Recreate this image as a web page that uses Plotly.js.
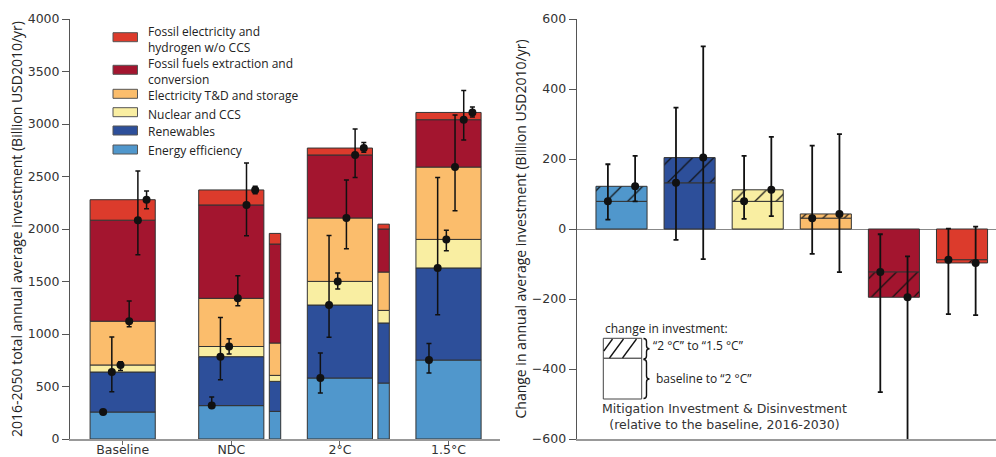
<!DOCTYPE html>
<html>
<head>
<meta charset="utf-8">
<script src="https://cdn.plot.ly/plotly-3.0.1.min.js"></script>
<style>html,body{margin:0;padding:0;background:#fff;}#chart{width:996px;height:457px;}</style>
</head>
<body>
<div id="chart"></div>
<script>
// ---------- DATA ----------
const categories = ['Baseline', 'NDC', '2°C', '1.5°C'];
const seriesNames = ['Energy efficiency', 'Renewables', 'Nuclear and CCS', 'Electricity T&D and storage',
  'Fossil fuels extraction and conversion', 'Fossil electricity and hydrogen w/o CCS'];

// 2016-2050 stacked components (Billion USD2010/yr)
const efficiency  = [257, 318, 581, 752];
const renewables  = [381, 466, 695, 877];
const nuclear     = [67, 97, 225, 272];
const gridStorage = [417, 459, 604, 689];
const fossilFuels = [962, 889, 600, 451];
const fossilElec  = [195, 143, 66, 69];

// 2016-2030 thin bars (NDC and 2°C)
const shortCategories = ['NDC', '2°C'];
const efficiency2030  = [263, 533];
const renewables2030  = [286, 572];
const nuclear2030     = [57, 120];
const gridStorage2030 = [308, 365];
const fossilFuels2030 = [943, 410];
const fossilElec2030  = [101, 46];

// uncertainty ranges of cumulative totals (low / high)
const efficiencyLow  = [250, 300, 438, 629];
const efficiencyHigh = [265, 400, 819, 910];
const renewablesLow  = [450, 565, 968, 1184];
const renewablesHigh = [971, 1158, 1939, 2491];
const nuclearLow     = [653, 810, 1429, 1793];
const nuclearHigh    = [736, 955, 1581, 1987];
const gridLow        = [1070, 1270, 1812, 2174];
const gridHigh       = [1315, 1555, 2467, 3085];
const fossilFuelsLow = [1755, 1936, 2491, 2848];
const fossilFuelsHigh= [2552, 2629, 2952, 3320];
const fossilElecLow  = [2193, 2336, 2730, 3067];
const fossilElecHigh = [2362, 2406, 2825, 3162];

// Right panel: change relative to baseline, 2016-2030
const toTwoDeg        = [79, 132, 79, 31, -123, -88];
const toOnePointFive  = [122, 204, 112, 43, -195, -97];
const toTwoDegLow     = [27, -31, 29, -71, -466, -243];
const toTwoDegHigh    = [185, 347, 209, 238, -15, 1];
const toOnePFLow      = [79, -86, 37, -123, -640, -246];
const toOnePFHigh     = [209, 522, 263, 271, -78, 7];

// ---------- STYLE ----------
const colors = ['#5097cc', '#2d4f9a', '#f9eea2', '#fbbd6c', '#a3152f', '#dc3b2c'];
const edge = '#333';
const tickFont = {family: 'DejaVu Sans', size: 12.5, color: '#333'};
const textFont = {family: 'Open Sans', size: 12, color: '#222'};

const mainSeries = [efficiency, renewables, nuclear, gridStorage, fossilFuels, fossilElec];
const shortSeries = [efficiency2030, renewables2030, nuclear2030, gridStorage2030, fossilFuels2030, fossilElec2030];
const lows = [efficiencyLow, renewablesLow, nuclearLow, gridLow, fossilFuelsLow, fossilElecLow];
const highs = [efficiencyHigh, renewablesHigh, nuclearHigh, gridHigh, fossilFuelsHigh, fossilElecHigh];

const catIdx = categories.map((c, i) => i);
const shortIdx = shortCategories.map(c => categories.indexOf(c));

const traces = [];
// main stacked bars
let cum = categories.map(() => 0);
const cumTops = [];
mainSeries.forEach((vals, s) => {
  const base = cum.slice();
  traces.push({type: 'bar', x: catIdx, y: vals, base: base, width: 0.6, name: seriesNames[s],
    marker: {color: colors[s], line: {color: edge, width: 1}}, xaxis: 'x', yaxis: 'y', hoverinfo: 'y'});
  cum = cum.map((c, i) => c + vals[i]);
  cumTops.push(cum.slice());
});
// thin 2016-2030 bars
let cumS = shortCategories.map(() => 0);
shortSeries.forEach((vals, s) => {
  const base = cumS.slice();
  traces.push({type: 'bar', x: shortIdx, y: vals, base: base, width: 0.105, offset: 0.35,
    marker: {color: colors[s], line: {color: edge, width: 1}}, xaxis: 'x', yaxis: 'y', hoverinfo: 'y'});
  cumS = cumS.map((c, i) => c + vals[i]);
});
// dots with error bars
cumTops.forEach((tops, s) => {
  traces.push({type: 'scatter', mode: 'markers', xaxis: 'x', yaxis: 'y',
    x: catIdx.map(i => i - 0.18 + 0.08 * s), y: tops,
    marker: {color: '#111', size: 8},
    error_y: {type: 'data', symmetric: false,
      array: tops.map((t, i) => highs[s][i] - t),
      arrayminus: tops.map((t, i) => t - lows[s][i]),
      color: '#111', thickness: 1.5, width: 2.5}});
});

// right panel
const rIdx = seriesNames.map((n, i) => i);
traces.push({type: 'bar', x: rIdx, y: toTwoDeg, base: rIdx.map(() => 0), width: 0.75,
  marker: {color: colors, line: {color: edge, width: 1}}, xaxis: 'x2', yaxis: 'y2'});
// hatched part (2 °C -> 1.5 °C), one trace per category so each gets its own pattern colours
rIdx.forEach(i => {
  traces.push({type: 'bar', x: [i], y: [toOnePointFive[i] - toTwoDeg[i]], base: [toTwoDeg[i]], width: 0.75,
    marker: {color: colors[i], line: {color: edge, width: 1},
      pattern: {shape: '/', fillmode: 'replace', bgcolor: colors[i], fgcolor: '#111', fgopacity: 1, size: 15, solidity: 0.08}},
    xaxis: 'x2', yaxis: 'y2'});
});
traces.push({type: 'scatter', mode: 'markers', xaxis: 'x2', yaxis: 'y2',
  x: rIdx.map(i => i - 0.2), y: toTwoDeg, marker: {color: '#111', size: 8},
  error_y: {type: 'data', symmetric: false,
    array: toTwoDeg.map((v, i) => toTwoDegHigh[i] - v),
    arrayminus: toTwoDeg.map((v, i) => v - toTwoDegLow[i]),
    color: '#111', thickness: 1.8, width: 2.5}});
traces.push({type: 'scatter', mode: 'markers', xaxis: 'x2', yaxis: 'y2',
  x: rIdx.map(i => i + 0.2), y: toOnePointFive, marker: {color: '#111', size: 8},
  error_y: {type: 'data', symmetric: false,
    array: toOnePointFive.map((v, i) => toOnePFHigh[i] - v),
    arrayminus: toOnePointFive.map((v, i) => v - toOnePFLow[i]),
    color: '#111', thickness: 1.8, width: 2.5}});

// ---------- helpers for paper coords (pixel -> paper) ----------
const ML = 70, MT = 19, PW = 926, PH = 420;
const px = x => (x - ML) / PW;
const py = y => (MT + PH - y) / PH;
function pathPx(cmds) {
  return cmds.map(c => c[0] + ' ' + c.slice(1).reduce((acc, v, k, arr) => {
    if (k % 2 === 0) acc.push(px(v).toFixed(5) + ',' + py(arr[k + 1]).toFixed(5));
    return acc;
  }, []).join(' ')).join(' ');
}
function brace(x0, yTop, yBot, w) {
  const xm = x0 + w / 2, ym = (yTop + yBot) / 2;
  return pathPx([['M', x0, yTop], ['Q', xm, yTop, xm, yTop + 3], ['L', xm, ym - 3],
    ['Q', xm, ym, x0 + w, ym], ['Q', xm, ym, xm, ym + 3], ['L', xm, yBot - 3], ['Q', xm, yBot, x0, yBot]]);
}

const shapes = [];
const annotations = [];

// left legend (manual, wide swatches)
const legendOrder = [5, 4, 3, 2, 1, 0];
const swatchTops = [32.7, 65.3, 89.3, 107.7, 126, 145];
const legendText = {5: 'Fossil electricity and<br>hydrogen w/o CCS', 4: 'Fossil fuels extraction and<br>conversion'};
const textCenters = [39.7, 71.8, 95, 114.7, 131, 150.2];
legendOrder.forEach((s, k) => {
  shapes.push({type: 'rect', xref: 'paper', yref: 'paper', x0: px(113), x1: px(137.5),
    y0: py(swatchTops[k]), y1: py(swatchTops[k] + 9), fillcolor: colors[s], line: {color: '#555', width: 1}});
  annotations.push({xref: 'paper', yref: 'paper', x: px(145.5), y: py(textCenters[k]),
    xanchor: 'left', yanchor: 'middle', align: 'left', text: legendText[s] || seriesNames[s].replace('&', '&amp;'),
    showarrow: false, font: textFont});
});

// right legend
shapes.push({type: 'rect', xref: 'paper', yref: 'paper', x0: px(603.3), x1: px(641.7), y0: py(338.3), y1: py(358.3),
  fillcolor: '#fff', line: {color: '#444', width: 1}});
shapes.push({type: 'rect', xref: 'paper', yref: 'paper', x0: px(603.3), x1: px(641.7), y0: py(358.3), y1: py(399),
  fillcolor: '#fff', line: {color: '#444', width: 1}});
[[603.8, 351, 612.5, 339], [609.5, 358, 623.5, 339], [622.5, 358, 636.5, 339]].forEach(l => {
  shapes.push({type: 'line', xref: 'paper', yref: 'paper', x0: px(l[0]), y0: py(l[1]), x1: px(l[2]), y1: py(l[3]),
    line: {color: '#111', width: 1.3}});
});
shapes.push({type: 'path', xref: 'paper', yref: 'paper', path: brace(643.5, 338.5, 359, 6), line: {color: '#111', width: 1.4}});
shapes.push({type: 'path', xref: 'paper', yref: 'paper', path: brace(643.5, 359.5, 398.5, 6), line: {color: '#111', width: 1.4}});

annotations.push({xref: 'paper', yref: 'paper', x: px(602.5), y: py(328), xanchor: 'left', yanchor: 'middle',
  text: 'change in investment:', showarrow: false, font: textFont});
annotations.push({xref: 'paper', yref: 'paper', x: px(651), y: py(345), xanchor: 'left', yanchor: 'middle',
  text: '“2 °C” to “1.5 °C”', showarrow: false, font: textFont});
annotations.push({xref: 'paper', yref: 'paper', x: px(653.5), y: py(378.5), xanchor: 'left', yanchor: 'middle',
  text: 'baseline to “2 °C”', showarrow: false, font: textFont});
annotations.push({xref: 'paper', yref: 'paper', x: px(724.5), y: py(416.5), xanchor: 'center', yanchor: 'middle',
  text: 'Mitigation Investment &amp; Disinvestment<br>(relative to the baseline, 2016-2030)', showarrow: false,
  font: tickFont});

const titleFont = {family: 'Open Sans', size: 14, color: '#222'};
const layout = {
  width: 996, height: 457,
  margin: {l: ML, r: 0, t: MT, b: 457 - MT - PH, pad: 0},
  paper_bgcolor: '#fff', plot_bgcolor: '#fff',
  barmode: 'overlay', showlegend: false, bargap: 0,
  xaxis: {domain: [0, px(500)], range: [-0.485, 3.474], tickmode: 'array', tickvals: catIdx, ticktext: categories,
    ticks: 'outside', ticklen: 4, tickcolor: '#666', showline: true, linecolor: '#999', linewidth: 2,
    ticklabelstandoff: -6,
    showgrid: false, zeroline: false, tickfont: tickFont, fixedrange: true},
  yaxis: {domain: [0, 1], range: [0, 4000], dtick: 500, tick0: 0, ticks: 'outside', ticklen: 7, tickcolor: '#555',
    showline: true, linecolor: '#555', linewidth: 1, showgrid: false, zeroline: false, tickfont: tickFont,
    title: {text: '2016-2050 total annual average investment (Billion USD2010/yr)', font: titleFont}},
  xaxis2: {domain: [px(576.7), 1], anchor: 'y2', range: [-0.658, 5.499], showticklabels: false, ticks: '',
    showline: true, linecolor: '#999', linewidth: 2, showgrid: false, zeroline: false},
  yaxis2: {domain: [0, 1], anchor: 'x2', range: [-600, 600], dtick: 200, tick0: 0, ticks: 'outside', ticklen: 7,
    tickcolor: '#555', showline: true, linecolor: '#555', linewidth: 1, showgrid: false,
    zeroline: true, zerolinecolor: '#888', zerolinewidth: 1, tickfont: tickFont,
    title: {text: 'Change in annual average investment (Billion USD2010/yr)', font: titleFont}},
  shapes: shapes,
  annotations: annotations
};

Plotly.newPlot('chart', traces, layout, {displayModeBar: false, staticPlot: true});
</script>
</body>
</html>
